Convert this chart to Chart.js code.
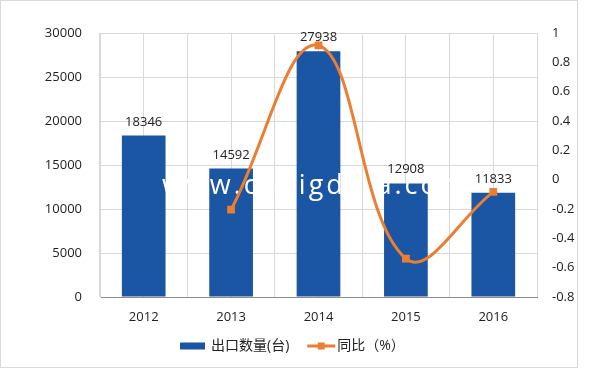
<!DOCTYPE html>
<html>
<head>
<meta charset="utf-8">
<script src="https://cdn.jsdelivr.net/npm/chart.js@4"></script>
<style>
  body { margin: 0; background: #fff; }
</style>
</head>
<body>
<canvas id="exportChart" width="600" height="369"></canvas>
<script>
// 年份
const years = ['2012', '2013', '2014', '2015', '2016'];
// 出口数量(台)
const exportQty = [18346, 14592, 27938, 12908, 11833];
// 同比
const yoyRatio = [null, -0.205, 0.915, -0.538, -0.083];
// 轴范围 [min, max, step]
const qtyAxis = [0, 30000, 5000];
const ratioAxis = [-0.8, 1, 0.2];
const watermarkText = 'www.cnbigdata.com';

const BLUE = '#1A56A3';
const ORANGE = '#ED7D31';
const GRID = '#d9d9d9';
const FONT = "'Open Sans', 'Noto Sans CJK SC', sans-serif";

Chart.defaults.font.family = FONT;
Chart.defaults.font.size = 13;
Chart.defaults.color = '#222';

// 背景和外框
const framePlugin = {
    id: 'frame',
    beforeDraw(chart) {
        const ctx = chart.ctx;
        ctx.save();
        ctx.fillStyle = '#fff';
        ctx.fillRect(0, 0, chart.width, chart.height);
        ctx.strokeStyle = '#d9d9d9';
        ctx.lineWidth = 1;
        ctx.strokeRect(0.5, 0.5, 577, 367);
        ctx.restore();
    }
};

// 水印（画在柱子之后、折线之前）
const watermarkPlugin = {
    id: 'watermark',
    afterDatasetDraw(chart, args) {
        if (args.index !== 0) return;
        const ctx = chart.ctx;
        ctx.save();
        ctx.font = '27px ' + FONT;
        ctx.fillStyle = '#fff';
        ctx.textBaseline = 'alphabetic';
        ctx.textAlign = 'left';
        ctx.letterSpacing = '3px';
        ctx.fillText(watermarkText, 162, 194);
        ctx.restore();
    }
};

// 柱顶数值
const barLabelPlugin = {
    id: 'barLabels',
    afterDatasetsDraw(chart) {
        const ctx = chart.ctx;
        const meta = chart.getDatasetMeta(0);
        ctx.save();
        ctx.font = '13px ' + FONT;
        ctx.fillStyle = '#222';
        ctx.textAlign = 'center';
        ctx.textBaseline = 'alphabetic';
        meta.data.forEach((bar, i) => {
            ctx.fillText(String(exportQty[i]), bar.x, bar.y - 10);
        });
        ctx.restore();
    }
};

// 底部图例
const legendPlugin = {
    id: 'bottomLegend',
    afterDraw(chart) {
        const ctx = chart.ctx;
        const y = 346;
        let x = 180;
        ctx.save();
        ctx.font = '14px ' + FONT;
        ctx.textBaseline = 'middle';
        ctx.textAlign = 'left';

        ctx.fillStyle = BLUE;
        ctx.fillRect(x, y - 3.5, 25, 7);
        x += 31;
        ctx.fillStyle = '#222';
        const t1 = chart.data.datasets[0].label;
        ctx.fillText(t1, x, y);
        x += ctx.measureText(t1).width + 18;

        ctx.strokeStyle = ORANGE;
        ctx.lineWidth = 3;
        ctx.beginPath();
        ctx.moveTo(x, y);
        ctx.lineTo(x + 28, y);
        ctx.stroke();
        ctx.fillStyle = ORANGE;
        ctx.fillRect(x + 14 - 3.5, y - 3.5, 7, 7);
        x += 30;
        ctx.fillStyle = '#222';
        ctx.fillText(chart.data.datasets[1].label, x, y);
        ctx.restore();
    }
};

new Chart(document.getElementById('exportChart'), {
    data: {
        labels: years,
        datasets: [
            {
                type: 'bar',
                label: '出口数量(台)',
                data: exportQty,
                backgroundColor: BLUE,
                borderWidth: 0,
                barPercentage: 0.5,
                categoryPercentage: 1,
                yAxisID: 'y',
                order: 1
            },
            {
                type: 'line',
                label: '同比（%）',
                data: yoyRatio,
                borderColor: ORANGE,
                backgroundColor: ORANGE,
                borderWidth: 3,
                tension: 0.4,
                pointStyle: 'rect',
                pointRadius: 5.5,
                pointBorderWidth: 0,
                yAxisID: 'y1',
                order: 0
            }
        ]
    },
    options: {
        responsive: false,
        animation: false,
        layout: { padding: { top: 33, bottom: 39, left: 0, right: 0 } },
        plugins: {
            legend: { display: false },
            tooltip: { enabled: false }
        },
        scales: {
            x: {
                position: 'bottom',
                offset: true,
                grid: { offset: true, color: GRID, drawTicks: false },
                border: { color: '#8c8c8c' },
                ticks: { padding: 12, color: '#222' },
                afterFit: (s) => { s.height = 33; }
            },
            x2: {
                type: 'category',
                labels: years,
                position: 'top',
                offset: true,
                grid: { offset: false, color: GRID, drawTicks: false },
                border: { display: false },
                ticks: { display: false },
                afterFit: (s) => { s.height = 0; }
            },
            y: {
                position: 'left',
                min: qtyAxis[0],
                max: qtyAxis[1],
                ticks: {
                    stepSize: qtyAxis[2],
                    padding: 18,
                    color: '#222',
                    callback: (v) => String(v)
                },
                grid: { color: GRID, drawTicks: false },
                border: { color: GRID },
                afterFit: (s) => { s.width = 100; }
            },
            y1: {
                position: 'right',
                min: ratioAxis[0],
                max: ratioAxis[1],
                ticks: {
                    stepSize: ratioAxis[2],
                    padding: 15,
                    color: '#222',
                    callback: (v) => String(Math.round(v * 10) / 10)
                },
                grid: { display: false, drawTicks: false },
                border: { display: false },
                afterFit: (s) => { s.width = 63; }
            }
        }
    },
    plugins: [framePlugin, watermarkPlugin, barLabelPlugin, legendPlugin]
});
</script>
</body>
</html>
